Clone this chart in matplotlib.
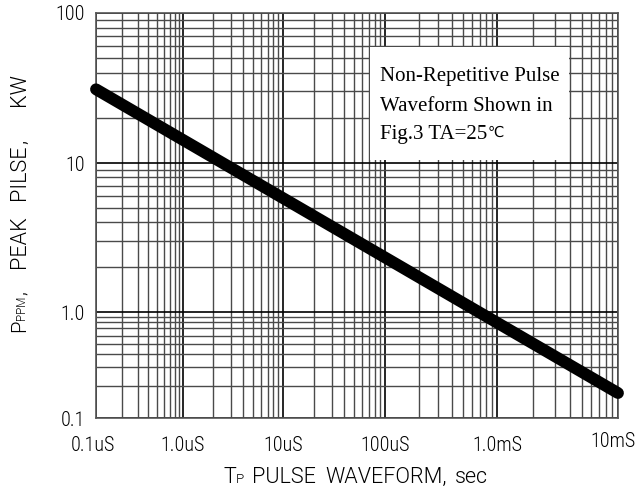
#!/usr/bin/env python3
"""
Peak pulse power vs pulse width (TVS derating curve, graph-paper style)
"""
import matplotlib
matplotlib.use('Agg')
import matplotlib.pyplot as plt
import numpy as np
from matplotlib.patches import Rectangle
from matplotlib.ticker import FixedLocator, NullFormatter
from matplotlib.transforms import offset_copy

# Curve end points (seconds, kW)
pulse_width = [1e-7, 1e-2]
peak_power = [31.0, 0.172]

x_decades = [1e-7, 1e-6, 1e-5, 1e-4, 1e-3, 1e-2]
x_labels = ['0.1uS', '1.0uS', '10uS', '100uS', '1.0mS', '10mS']
y_decades = [0.1, 1.0, 10.0, 100.0]
y_labels = ['0.1', '1.0', '10', '100']

note_lines = ['Non-Repetitive Pulse', 'Waveform Shown in', 'Fig.3 TA=25']

# The printed graph paper has uneven decades; these are where each decade line sits (pixels)
x_decade_px = [96, 183, 283, 385, 497, 618]
y_decade_px = [-418, -312, -163, -13]

W, H = 639, 494
TICK_FONT = 'Roboto Condensed'
TITLE_FONT = 'Roboto'


def make_scale(decades, px):
    logs = np.log10(decades)

    def fwd(v):
        v = np.asarray(v, dtype=float)
        return np.interp(np.log10(np.clip(v, 1e-30, None)), logs, px)

    def inv(p):
        return 10 ** np.interp(np.asarray(p, dtype=float), px, logs)

    return fwd, inv


def minor_positions(decades):
    out = []
    for d in decades[:-1]:
        out += [d * k for k in range(2, 10)]
    return out


def chain_text(fig, base, pieces, rotation=0):
    """Words on a shared baseline. Each piece: (text, size, start px or None = right after previous)."""
    renderer = fig.canvas.get_renderer()
    cur = None
    for s, size, start in pieces:
        pos = start if start is not None else cur
        if rotation == 0:
            xy = (pos / W, 1 - base / H)
        else:
            xy = (base / W, 1 - pos / H)
        t = fig.text(*xy, s, fontsize=size, family=TITLE_FONT, fontweight=300,
                     ha='left', va='baseline', rotation=rotation, rotation_mode='anchor')
        ext = t.get_window_extent(renderer)
        cur = pos + ext.width if rotation == 0 else pos - ext.height


fig = plt.figure(figsize=(W / 100, H / 100), dpi=100)
ax = fig.add_axes([96 / W, 1 - 418 / H, 522 / W, 405 / H])

ax.set_xscale('function', functions=make_scale(x_decades, x_decade_px))
ax.set_yscale('function', functions=make_scale(y_decades, y_decade_px))
ax.set_xlim(x_decades[0], x_decades[-1])
ax.set_ylim(y_decades[0], y_decades[-1])

ax.xaxis.set_major_locator(FixedLocator(x_decades))
ax.yaxis.set_major_locator(FixedLocator(y_decades))
ax.xaxis.set_minor_locator(FixedLocator(minor_positions(x_decades)))
ax.yaxis.set_minor_locator(FixedLocator(minor_positions(y_decades)))
ax.set_xticklabels(x_labels, family=TICK_FONT, fontweight=300)
ax.set_yticklabels(y_labels, family=TICK_FONT, fontweight=300)
ax.xaxis.set_minor_formatter(NullFormatter())
ax.yaxis.set_minor_formatter(NullFormatter())

ax.grid(True, which='major', color='black', linewidth=1.2, zorder=0)
ax.grid(True, which='minor', color='#4a4a4a', linewidth=1.0, zorder=0)
ax.tick_params(which='both', length=0)
ax.tick_params(axis='x', pad=13, labelsize=14.5)
ax.tick_params(axis='y', pad=8, labelsize=14.5)
for sp in ax.spines.values():
    sp.set_color('#555555')
    sp.set_linewidth(1.2)

# first and last x labels sit a little inside their grid lines
xt = ax.get_xticklabels()
xt[0].set_transform(offset_copy(xt[0].get_transform(), fig=fig, x=-3, units='dots'))
xt[-1].set_transform(offset_copy(xt[-1].get_transform(), fig=fig, x=-5, y=4, units='dots'))

# Note box
ax.add_patch(Rectangle((0.525, 0.637), 0.381, 0.279, transform=ax.transAxes,
                       facecolor='white', edgecolor='none', zorder=2))
note_font = ['Liberation Serif', 'DejaVu Sans', 'Noto Sans CJK SC']
last = None
for line, yy in zip(note_lines, [0.842, 0.770, 0.700]):
    last = ax.text(0.544, yy, line, transform=ax.transAxes, ha='left', va='center',
                   fontsize=15, family=note_font, zorder=3)
ax.annotate('\u2103', xy=(1, 0.22), xycoords=last, ha='left', va='bottom',
            fontsize=10.5, family=['DejaVu Sans', 'Noto Sans CJK SC'], zorder=3)

ax.plot(pulse_width, peak_power, color='black', linewidth=8.5,
        solid_capstyle='round', zorder=4, clip_on=False)

# Axis titles with the small-cap suffixes sitting on the baseline
chain_text(fig, 25, [('P', 14.5, 332), ('PPM', 8.5, None), (',', 14.5, None),
                     ('PEAK', 15.5, 268), ('PILSE', 15.5, 200), (',', 15.5, None),
                     ('KW', 15.5, 106)], rotation=90)
chain_text(fig, 483, [('T', 15.5, 223), ('P', 9.5, None), ('PULSE', 15.5, 252),
                      ('WAVEFORM,', 15.5, 325), ('sec', 15.5, 455)])

fig.savefig('out.png', dpi=100)
